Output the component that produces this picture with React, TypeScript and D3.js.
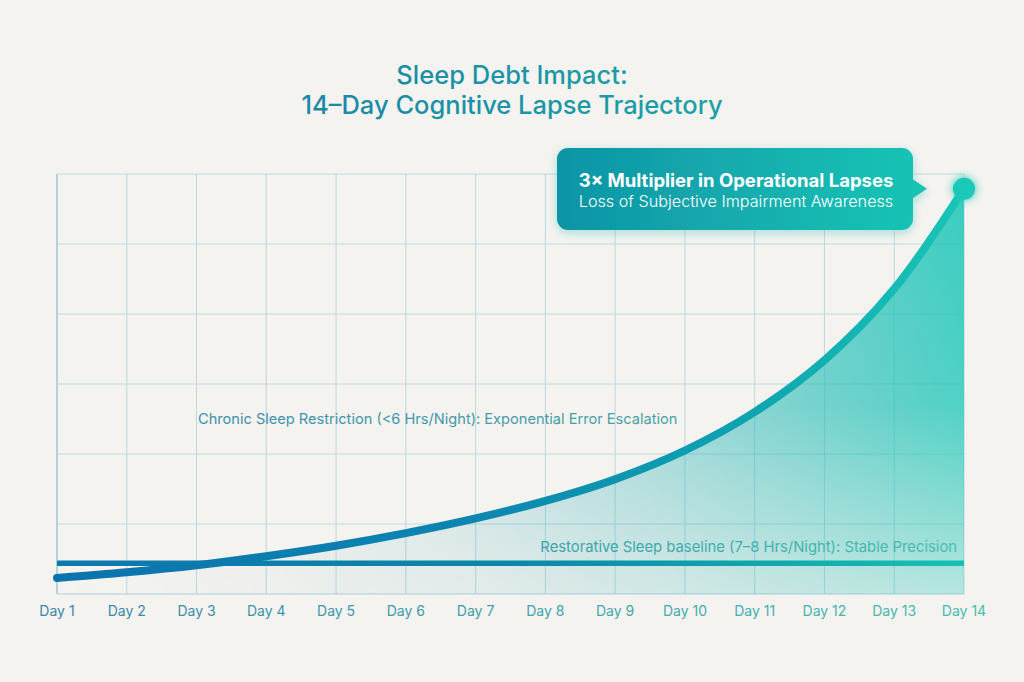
import React from "react";
import * as d3 from "d3";

const days = ["Day 1","Day 2","Day 3","Day 4","Day 5","Day 6","Day 7","Day 8","Day 9","Day 10","Day 11","Day 12","Day 13","Day 14"];
const chronicValues = [0.23, 0.31, 0.41, 0.54, 0.69, 0.87, 1.08, 1.33, 1.64, 2.05, 2.60, 3.34, 4.36, 5.79];
const baselineValues = [0.44, 0.44, 0.44, 0.44, 0.44, 0.44, 0.44, 0.44, 0.44, 0.44, 0.44, 0.44, 0.44, 0.44];
const yTicks = [0, 1, 2, 3, 4, 5, 6];

const titleLines = ["Sleep Debt Impact:", "14\u2013Day Cognitive Lapse Trajectory"];
const calloutTitle = "3\u00d7 Multiplier in Operational Lapses";
const calloutSub = "Loss of Subjective Impairment Awareness";
const chronicLabel = "Chronic Sleep Restriction (<6 Hrs/Night): Exponential Error Escalation";
const baselineLabel = "Restorative Sleep baseline (7\u20138 Hrs/Night): Stable Precision";

const W = 1024;
const H = 682;
const M = { left: 57, right: 60, top: 174, bottom: 88 };
const FONT = "Inter, 'Open Sans', sans-serif";

export default function App() {
  const x = d3.scalePoint<string>().domain(days).range([M.left, W - M.right]);
  const y = d3.scaleLinear().domain([0, 6]).range([H - M.bottom, M.top]);
  const x0 = M.left;
  const x1 = W - M.right;

  const chronicPts = days.map((d, i) => [x(d) as number, y(chronicValues[i])] as [number, number]);
  const basePts = days.map((d, i) => [x(d) as number, y(baselineValues[i])] as [number, number]);

  const line = d3.line<[number, number]>().x((p) => p[0]).y((p) => p[1]).curve(d3.curveCatmullRom.alpha(0.5));
  const area = d3
    .area<[number, number]>()
    .x((p) => p[0])
    .y0(y(0))
    .y1((p) => p[1])
    .curve(d3.curveCatmullRom.alpha(0.5));

  const last = chronicPts[chronicPts.length - 1];
  const labelColor = d3.interpolateRgb("#3b86aa", "#46bdb0");

  const cx = 557, cy = 148, cw = 356, ch = 82;
  const ptrY = last[1];

  return (
    <svg width={W} height={H} style={{ position: "absolute", left: 0, top: 0 }} fontFamily={FONT}>
      <defs>
        <linearGradient id="lineGrad" gradientUnits="userSpaceOnUse" x1={x0} y1={0} x2={x1} y2={0}>
          <stop offset="0%" stopColor="#0b73ad" />
          <stop offset="45%" stopColor="#0c85b0" />
          <stop offset="75%" stopColor="#0ea2b0" />
          <stop offset="100%" stopColor="#19c6b6" />
        </linearGradient>
        <linearGradient id="baseGrad" gradientUnits="userSpaceOnUse" x1={x0} y1={0} x2={x1} y2={0}>
          <stop offset="0%" stopColor="#0d78ad" />
          <stop offset="50%" stopColor="#0a86a8" />
          <stop offset="100%" stopColor="#16c1b3" />
        </linearGradient>
        <linearGradient id="fillGrad" gradientUnits="userSpaceOnUse" x1={x0} y1={0} x2={x1} y2={0}>
          <stop offset="0%" stopColor="#1d8fb8" stopOpacity={0} />
          <stop offset="20%" stopColor="#1d8fb8" stopOpacity={0.05} />
          <stop offset="45%" stopColor="#1a9ab8" stopOpacity={0.22} />
          <stop offset="70%" stopColor="#1fb3b6" stopOpacity={0.5} />
          <stop offset="100%" stopColor="#24c8ba" stopOpacity={0.9} />
        </linearGradient>
        <linearGradient id="fadeGrad" gradientUnits="userSpaceOnUse" x1={0} y1={M.top} x2={0} y2={y(0)}>
          <stop offset="0%" stopColor="#fff" />
          <stop offset="55%" stopColor="#e0e0e0" />
          <stop offset="100%" stopColor="#555" />
        </linearGradient>
        <mask id="fadeMask">
          <rect x={0} y={0} width={W} height={H} fill="url(#fadeGrad)" />
        </mask>
        <linearGradient id="calloutGrad" x1="0" y1="0" x2="1" y2="0">
          <stop offset="0%" stopColor="#0f94a6" />
          <stop offset="100%" stopColor="#18c3b5" />
        </linearGradient>
        <linearGradient id="titleGrad" gradientUnits="userSpaceOnUse" x1={290} y1={0} x2={735} y2={0}>
          <stop offset="0%" stopColor="#1a87a6" />
          <stop offset="100%" stopColor="#1aa3a6" />
        </linearGradient>
        <linearGradient id="chronicTextGrad" gradientUnits="userSpaceOnUse" x1={198} y1={0} x2={678} y2={0}>
          <stop offset="0%" stopColor="#3d8eae" />
          <stop offset="100%" stopColor="#4aa1a4" />
        </linearGradient>
        <linearGradient id="baseTextGrad" gradientUnits="userSpaceOnUse" x1={542} y1={0} x2={957} y2={0}>
          <stop offset="0%" stopColor="#3aa1aa" />
          <stop offset="100%" stopColor="#48bdb2" />
        </linearGradient>
        <filter id="glow" x="-50%" y="-50%" width="200%" height="200%">
          <feGaussianBlur stdDeviation="4" result="b" />
          <feMerge>
            <feMergeNode in="b" />
            <feMergeNode in="SourceGraphic" />
          </feMerge>
        </filter>
        <filter id="shadow" x="-10%" y="-20%" width="120%" height="150%">
          <feDropShadow dx="0" dy="3" stdDeviation="5" floodColor="#18b5ad" floodOpacity="0.35" />
        </filter>
      </defs>

      <rect x={0} y={0} width={W} height={H} fill="#f4f3ef" />

      {/* Title */}
      <text x={512} y={84} textAnchor="middle" fontSize={25.5} fontWeight={500} fill="url(#titleGrad)">
        {titleLines[0]}
      </text>
      <text x={512} y={114} textAnchor="middle" fontSize={25.5} fontWeight={500} fill="url(#titleGrad)">
        {titleLines[1]}
      </text>

      {/* Grid */}
      <g stroke="#b9d8e0" strokeWidth={1}>
        {yTicks.map((t) => (
          <line key={"h" + t} x1={x0} x2={x1} y1={y(t)} y2={y(t)} stroke={t === 0 ? "#a9cfda" : "#bcdae2"} />
        ))}
        {days.map((d) => (
          <line key={"v" + d} x1={x(d)} x2={x(d)} y1={M.top} y2={y(0)} />
        ))}
        <line x1={x0} x2={x0} y1={M.top} y2={y(0)} stroke="#a6cdd9" strokeWidth={1.5} />
      </g>

      {/* Area fill */}
      <path d={area(chronicPts) || ""} fill="url(#fillGrad)" mask="url(#fadeMask)" />

      {/* Baseline */}
      <path d={line(basePts) || ""} fill="none" stroke="url(#baseGrad)" strokeWidth={5.5} />

      {/* Chronic curve */}
      <path d={line(chronicPts) || ""} fill="none" stroke="url(#lineGrad)" strokeWidth={8} strokeLinecap="round" />

      {/* Endpoint */}
      <circle cx={last[0]} cy={last[1]} r={11} fill="#1cc8b8" filter="url(#glow)" />

      {/* Callout */}
      <g filter="url(#shadow)">
        <rect x={cx} y={cy} width={cw} height={ch} rx={11} fill="url(#calloutGrad)" />
        <path d={`M${cx + cw - 1},${ptrY - 10} L${cx + cw + 14},${ptrY} L${cx + cw - 1},${ptrY + 10} Z`} fill="#18c3b5" />
      </g>
      <text x={cx + cw / 2 + 1} y={187} textAnchor="middle" fontSize={18.5} fontWeight={700} fill="#ffffff">
        {calloutTitle}
      </text>
      <text x={cx + cw / 2 + 1} y={207} textAnchor="middle" fontSize={16.2} fontWeight={300} fill="#ffffff">
        {calloutSub}
      </text>

      {/* Annotations */}
      <text x={198} y={424} fontSize={14.6} fill="url(#chronicTextGrad)">
        {chronicLabel}
      </text>
      <text x={957} y={552} textAnchor="end" fontSize={14.8} fill="url(#baseTextGrad)">
        {baselineLabel}
      </text>

      {/* X axis labels */}
      {days.map((d, i) => (
        <text key={d} x={x(d)} y={616} textAnchor="middle" fontSize={14} fill={labelColor(i / (days.length - 1))}>
          {d}
        </text>
      ))}
    </svg>
  );
}
